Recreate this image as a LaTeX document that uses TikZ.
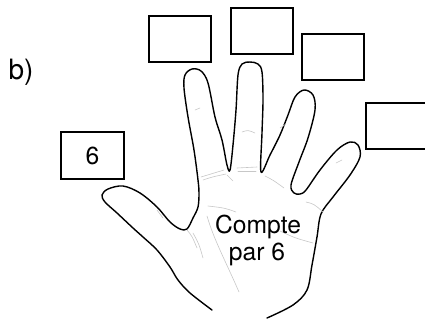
\documentclass[tikz,border=0pt]{standalone}
\usepackage{fontspec}
\setmainfont{TeX Gyre Heros}
\begin{document}
\begin{tikzpicture}[x=0.75pt,y=-0.75pt,
  numbox/.style={draw=black,line width=1.3pt,minimum width=47pt,minimum height=35pt,inner sep=0pt,font=\fontsize{18.5}{21}\selectfont},
  handline/.style={draw=black,line width=1.05pt,line join=round,line cap=round},
  crease/.style={draw=black!22,line width=0.45pt,line cap=round},
  lbl/.style={font=\fontsize{18.5}{21}\selectfont,inner sep=0pt,align=center}]
\useasboundingbox (0,0) rectangle (425,322);
% boxes
\node[numbox] (b1) at (180,39) {};
\node[numbox] (b2) at (262,31) {};
\node[numbox] (b3) at (333,57) {};
\node[numbox,anchor=west] (b4) at (365,126) {};
\node[numbox] (b6) at (92.5,155.5) {6};
\node[lbl,font=\fontsize{21}{24}\selectfont] (lb) at (21,72) {b)};
% hand outline
\draw[handline] plot[smooth,tension=0.55] coordinates {
(212,310) (190,293) (178,280) (170,267) (157,250) (143,237) (133,228)
(117,213) (105,202) (102,195) (108,189) (123,186) (140,193) (157,207)
(170,222) (180,229) (187,229) (193,218) (198,207) (199,193) (198,180)
(194,150) (188,117) (184,88) (185,75) (192,69) (201,71) (208,83)
(215,117) (222,140) (227,165) (230,170) (233,145) (236,110) (238,75)
(242,64) (250,62) (258,64) (262,72) (263,100) (262,133) (261,172)
(270,155) (280,135) (288,115) (295,97) (304,90) (313,95) (315,110)
(308,138) (299,162) (291,185) (294,193) (300,194) (306,190) (320,170)
(337,150) (350,142) (358,145) (360,157) (350,175) (333,197) (321,214)
(317,237) (312,265) (307,290) (293,305) (267,318)};
% creases
\draw[crease] (203,180) .. controls (212,177) .. (226,174);
\draw[crease] (201,177) .. controls (212,173) .. (224,170);
\draw[crease] (237,168) -- (257,167);
\draw[crease] (238,171) -- (256,171);
\draw[crease] (242,132) .. controls (248,130) .. (255,133);
\draw[crease] (227,175) -- (233,181);
\draw[crease] (265,176) .. controls (273,180) .. (284,188);
\draw[crease] (280,128) -- (286,124);
\draw[crease] (306,202) .. controls (314,204) .. (323,212);
\draw[crease] (208,206) .. controls (225,208) .. (236,212);
\draw[crease] (280,231) .. controls (295,238) .. (313,243);
\draw[crease] (207,216) .. controls (214,240) and (226,262) .. (239,292);
\draw[crease] (187,230) .. controls (192,236) .. (197,248);
\draw[crease] (193,233) .. controls (199,244) .. (203,258);
\draw[crease] (157,210) -- (163,218);
\draw[crease] (195,110) -- (200,108);
\draw[crease] (336,163) -- (342,160);
% text
\node[lbl] (t1) at (258,227) {Compte};
\node[lbl] (t2) at (257,254) {par 6};
\end{tikzpicture}
\end{document}
